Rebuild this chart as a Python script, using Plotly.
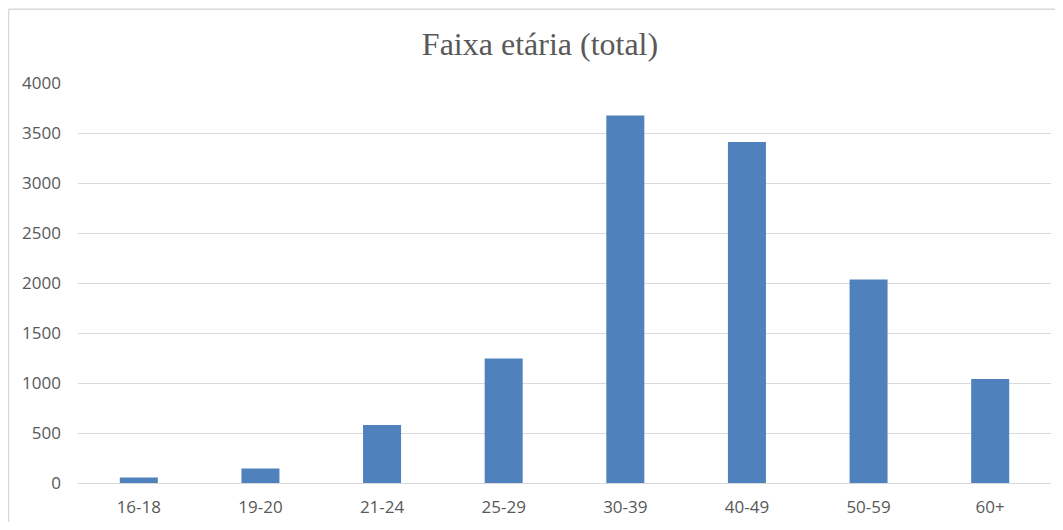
import plotly.graph_objects as go

categories = ["16-18", "19-20", "21-24", "25-29", "30-39", "40-49", "50-59", "60+"]
values = [55, 145, 580, 1245, 3675, 3410, 2035, 1040]
title_text = "Faixa etária (total)"
y_ticks = [0, 500, 1000, 1500, 2000, 2500, 3000, 3500, 4000]

fig = go.Figure(go.Bar(
    x=categories, y=values,
    marker=dict(color="#4F81BD", line=dict(width=0)),
    hoverinfo="x+y",
))

# page body has an 8px offset; keep page within the window to avoid scrollbars
W, H = 1047, 514
ml, mr, mt, mb = 70, 4, 75, 35
pw = W - ml - mr
ph = H - mt - mb

x_left = (0.5 - ml) / pw
y_top = (H - 0.5 - mb) / ph
x_right = (W + 20 - ml) / pw
y_bottom = (-20 - mb) / ph

fig.update_layout(
    width=W, height=H,
    margin=dict(l=ml, r=mr, t=mt, b=mb, pad=0),
    paper_bgcolor="white", plot_bgcolor="white",
    bargap=0.6875,
    showlegend=False,
    title=dict(text=title_text, x=(540 - 8) / W, xref="container", xanchor="center",
               yref="container", y=1 - 36 / H, yanchor="middle",
               font=dict(family="Liberation Serif, DejaVu Serif, serif", size=32, color="#595959")),
    xaxis=dict(
        showgrid=False, showline=True, linecolor="#D9D9D9", linewidth=1,
        ticks="", tickfont=dict(family="Open Sans, sans-serif", size=17, color="#595959"),
        ticklabelstandoff=9,
    ),
    yaxis=dict(
        range=[0, 4000], tickvals=y_ticks,
        showgrid=True, gridcolor="#D9D9D9", gridwidth=1,
        zeroline=True, zerolinecolor="#D9D9D9", zerolinewidth=1,
        showline=False, ticks="",
        tickfont=dict(family="Open Sans, sans-serif", size=17, color="#595959"),
        ticklabelstandoff=16,
    ),
    shapes=[
        dict(type="line", xref="paper", yref="paper", x0=x_left, x1=x_right, y0=y_top, y1=y_top,
             line=dict(color="#D9D9D9", width=1.5), layer="below"),
        dict(type="line", xref="paper", yref="paper", x0=x_left, x1=x_left, y0=y_top, y1=y_bottom,
             line=dict(color="#D9D9D9", width=1.5), layer="below"),
    ],
)

fig.write_html("out.html")
